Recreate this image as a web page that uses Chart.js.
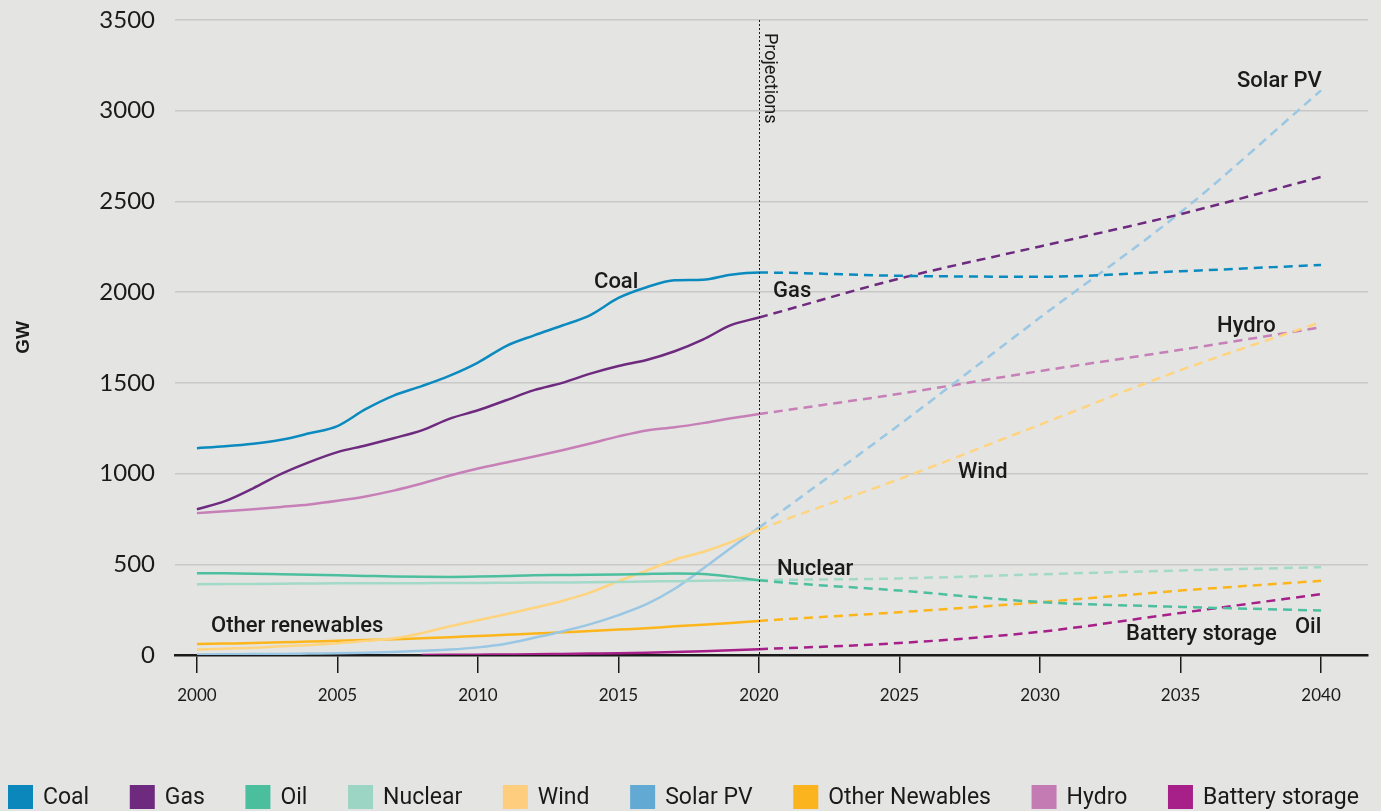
<!DOCTYPE html>
<html>
<head>
<meta charset="utf-8">
<title>Installed capacity by technology, GW</title>
<script src="https://cdn.jsdelivr.net/npm/chart.js@4.4.1/dist/chart.umd.min.js"></script>
<style>
  html, body { margin: 0; padding: 0; background: #e4e4e2; overflow: hidden; }
  #wrap { position: relative; width: 1381px; height: 811px; }
</style>
</head>
<body>
<div id="wrap"><canvas id="chart"></canvas></div>
<script>
// Historical years (annual) and projection years (5-yearly, continuing from 2020)
const histYears = [2000, 2001, 2002, 2003, 2004, 2005, 2006, 2007, 2008, 2009, 2010,
                   2011, 2012, 2013, 2014, 2015, 2016, 2017, 2018, 2019, 2020];
const projYears = [2025, 2030, 2035, 2040];
const xTickLabels = [2000, 2005, 2010, 2015, 2020, 2025, 2030, 2035, 2040];
const projectionStart = 2020;

// Installed capacity, GW
const coalHist    = [1140, 1150, 1164, 1186, 1222, 1262, 1355, 1430, 1482, 1540, 1612,
                     1703, 1762, 1816, 1874, 1968, 2027, 2065, 2068, 2096, 2108];
const coalProj    = [2090, 2085, 2115, 2150];

const gasHist     = [803, 848, 919, 998, 1063, 1118, 1155, 1195, 1238, 1303, 1349,
                     1404, 1460, 1500, 1551, 1593, 1626, 1674, 1738, 1818, 1860];
const gasProj     = [2075, 2252, 2430, 2635];

const oilHist     = [451, 450, 448, 445, 442, 439, 436, 433, 431, 430, 432,
                     436, 440, 441, 442, 444, 447, 449, 447, 432, 412];
const oilProj     = [355, 292, 265, 245];

const nuclearHist = [390, 391, 392, 393, 394, 395, 395, 396, 396, 397, 397,
                     398, 399, 400, 401, 403, 405, 407, 409, 411, 413];
const nuclearProj = [422, 445, 466, 484];

const windHist    = [30, 35, 40, 48, 55, 65, 78, 92, 120, 158, 192,
                     225, 260, 298, 345, 407, 465, 525, 568, 622, 690];
const windProj    = [970, 1270, 1570, 1835];

const solarHist   = [3, 4, 5, 6, 8, 10, 13, 17, 23, 30, 42,
                     62, 95, 130, 170, 220, 280, 365, 475, 590, 702];
const solarProj   = [1270, 1860, 2440, 3112];

const otherHist   = [60, 63, 66, 70, 74, 78, 82, 87, 92, 98, 105,
                     111, 118, 125, 132, 140, 148, 158, 167, 177, 188];
const otherProj   = [236, 291, 355, 409];

const hydroHist   = [782, 792, 803, 816, 830, 850, 874, 906, 945, 989, 1028,
                     1061, 1094, 1129, 1166, 1205, 1238, 1255, 1278, 1305, 1328];
const hydroProj   = [1440, 1565, 1682, 1806];

const batteryHist = [null, null, null, null, null, null, null, null, 0, 1, 2,
                     3, 4, 6, 8, 10, 13, 17, 21, 26, 32];
const batteryProj = [66, 128, 232, 336];

// Series names (legend) and in-chart annotations
const seriesNames = ['Coal', 'Gas', 'Oil', 'Nuclear', 'Wind', 'Solar PV', 'Other Newables', 'Hydro', 'Battery storage'];

const inlineLabels = [
  { text: 'Coal',             year: 2014.13, gw: 2055 },
  { text: 'Gas',              year: 2020.50, gw: 2003 },
  { text: 'Solar PV',         year: 2037.01, gw: 3160 },
  { text: 'Hydro',            year: 2036.30, gw: 1810 },
  { text: 'Wind',             year: 2027.08, gw: 1005 },
  { text: 'Nuclear',          year: 2020.64, gw: 472 },
  { text: 'Other renewables', year: 2000.50, gw: 158 },
  { text: 'Battery storage',  year: 2033.06, gw: 112 },
  { text: 'Oil',              year: 2039.07, gw: 150 }
];

const lineColors   = ['#0b8abf', '#6e2a7e', '#4cbf9e', '#a3d9c8', '#ffd47f', '#9ac7e3', '#fdb51c', '#c77fb7', '#a71f89'];
const legendColors = ['#0b87bb', '#6e2a7e', '#4bbe9d', '#9cd5c3', '#fecd7d', '#62a9d3', '#fbb41e', '#c47bb3', '#a71f89'];

const TEXT = '#1a1a1a';

function buildSeries(hist, proj) {
  const pts = histYears.map((yr, i) => ({ x: yr, y: hist[i] }));
  return pts.concat(projYears.map((yr, i) => ({ x: yr, y: proj[i] })));
}

const seriesData = [
  buildSeries(coalHist, coalProj),
  buildSeries(gasHist, gasProj),
  buildSeries(oilHist, oilProj),
  buildSeries(nuclearHist, nuclearProj),
  buildSeries(windHist, windProj),
  buildSeries(solarHist, solarProj),
  buildSeries(otherHist, otherProj),
  buildSeries(hydroHist, hydroProj),
  buildSeries(batteryHist, batteryProj)
];

const datasets = seriesNames.map((name, i) => ({
  label: name,
  data: seriesData[i],
  borderColor: lineColors[i],
  backgroundColor: legendColors[i],
  borderWidth: 2.5,
  pointRadius: 0,
  pointHoverRadius: 0,
  fill: false,
  cubicInterpolationMode: 'monotone',
  spanGaps: false,
  segment: {
    borderDash: ctx => (ctx.p0.parsed.x >= projectionStart ? [9, 6] : undefined)
  }
}));

// Dotted divider between history and projections, with its caption
const projectionMarker = {
  id: 'projectionMarker',
  afterDatasetsDraw(chart) {
    const { ctx, chartArea, scales } = chart;
    const x = Math.round(scales.x.getPixelForValue(projectionStart)) + 0.5;
    ctx.save();
    ctx.strokeStyle = TEXT;
    ctx.lineWidth = 1;
    ctx.setLineDash([2, 2]);
    ctx.beginPath();
    ctx.moveTo(x, chartArea.top);
    ctx.lineTo(x, chartArea.bottom);
    ctx.stroke();
    ctx.setLineDash([]);
    ctx.translate(x + 10, chartArea.top + 13);
    ctx.rotate(Math.PI / 2);
    ctx.fillStyle = TEXT;
    ctx.font = '18px Roboto';
    ctx.textAlign = 'left';
    ctx.textBaseline = 'middle';
    ctx.fillText('Projections', 0, 0);
    ctx.restore();
  }
};

// Series names written next to their lines
const seriesTags = {
  id: 'seriesTags',
  afterDatasetsDraw(chart) {
    const { ctx, scales } = chart;
    ctx.save();
    ctx.fillStyle = TEXT;
    ctx.font = '500 22px Roboto';
    ctx.textAlign = 'left';
    ctx.textBaseline = 'middle';
    inlineLabels.forEach(l => {
      ctx.fillText(l.text, scales.x.getPixelForValue(l.year), scales.y.getPixelForValue(l.gw));
    });
    ctx.restore();
  }
};

// Single-row legend along the bottom edge
const bottomLegend = {
  id: 'bottomLegend',
  afterDraw(chart) {
    const { ctx } = chart;
    const boxW = 25, boxH = 24, textGap = 10, itemGap = 40.6;
    const top = chart.height - 26;
    let x = 8;
    ctx.save();
    ctx.font = '23px Roboto';
    ctx.textAlign = 'left';
    ctx.textBaseline = 'middle';
    chart.data.datasets.forEach(ds => {
      ctx.fillStyle = ds.backgroundColor;
      ctx.fillRect(x, top, boxW, boxH);
      ctx.fillStyle = TEXT;
      ctx.fillText(ds.label, x + boxW + textGap, top + boxH / 2 + 1);
      x += boxW + textGap + ctx.measureText(ds.label).width + itemGap;
    });
    ctx.restore();
  }
};

new Chart(document.getElementById('chart'), {
  type: 'line',
  data: { datasets },
  options: {
    responsive: true,
    maintainAspectRatio: false,
    animation: false,
    events: [],
    layout: { padding: { top: 20, right: 13, left: 0, bottom: 66 } },
    plugins: {
      legend: { display: false },
      tooltip: { enabled: false }
    },
    scales: {
      x: {
        type: 'linear',
        min: 1999.22,
        max: 2041.67,
        afterBuildTicks: scale => { scale.ticks = xTickLabels.map(v => ({ value: v })); },
        afterFit: scale => { scale.height = 90; scale.paddingLeft = 0; scale.paddingRight = 0; },
        grid: { drawOnChartArea: false, drawTicks: true, tickLength: 18, color: TEXT, lineWidth: 1.5 },
        border: { display: true, color: TEXT, width: 2.5 },
        ticks: {
          padding: 12,
          color: TEXT,
          autoSkip: false,
          maxRotation: 0,
          font: { family: 'Lato', size: 17 },
          callback: v => String(v)
        }
      },
      y: {
        min: 0,
        max: 3500,
        afterFit: scale => { scale.width = 175; scale.paddingTop = 0; scale.paddingBottom = 0; },
        grid: { color: '#c8c8c8', lineWidth: 1.5, drawTicks: false },
        border: { display: false },
        ticks: {
          stepSize: 500,
          padding: 20,
          color: TEXT,
          font: { family: 'Lato', size: 24 },
          callback: v => String(v)
        },
        title: {
          display: true,
          text: 'GW',
          color: TEXT,
          font: { family: 'Liberation Sans', size: 19, weight: 'bold' },
          padding: { top: 12, bottom: 0 }
        }
      }
    }
  },
  plugins: [projectionMarker, seriesTags, bottomLegend]
});
</script>
</body>
</html>
